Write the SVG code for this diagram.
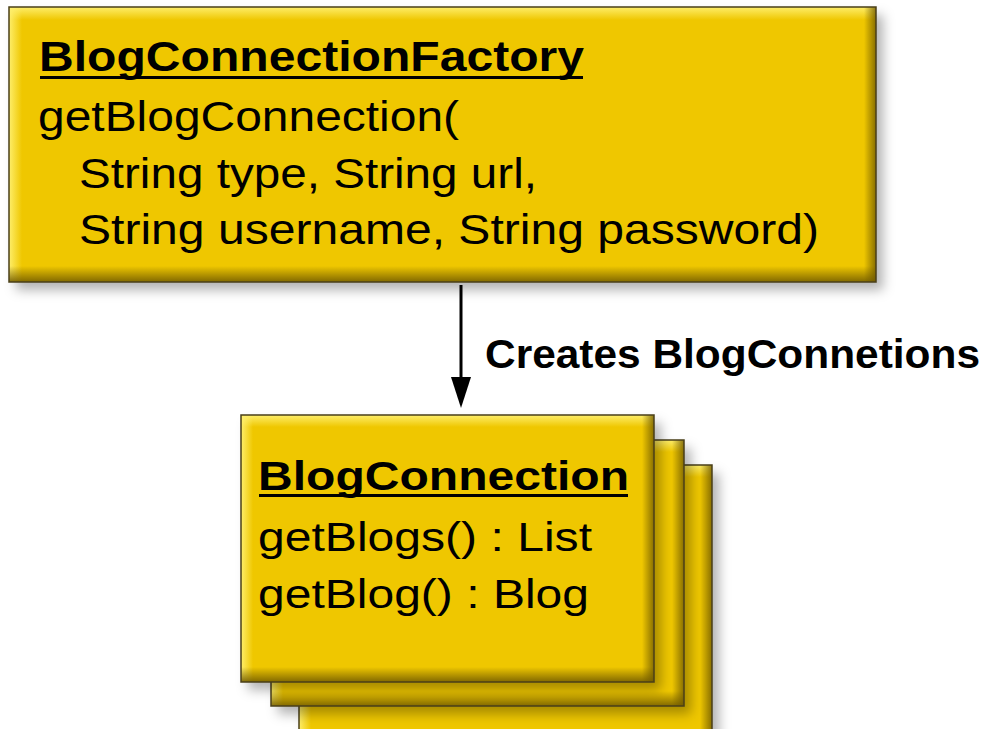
<svg xmlns="http://www.w3.org/2000/svg" width="984" height="729" viewBox="0 0 984 729">
  <style>
    .base { fill: #EFC700; }
    .frame { fill: none; stroke: #4a3f18; stroke-width: 1.5; }
    .txt { font-family: "Liberation Sans", Arial, sans-serif; fill: #000; }
    .bold { font-weight: bold; }
    .rule { fill: #000; }
  </style>
  <defs>
    <linearGradient id="gTop" x1="0" y1="0" x2="0" y2="1">
      <stop offset="0" stop-color="#FFF070" stop-opacity="0.95"/>
      <stop offset="1" stop-color="#FFF070" stop-opacity="0"/>
    </linearGradient>
    <linearGradient id="gLeft" x1="0" y1="0" x2="1" y2="0">
      <stop offset="0" stop-color="#FFF070" stop-opacity="0.95"/>
      <stop offset="1" stop-color="#FFF070" stop-opacity="0"/>
    </linearGradient>
    <linearGradient id="gBottom" x1="0" y1="0" x2="0" y2="1">
      <stop offset="0" stop-color="#6E5800" stop-opacity="0"/>
      <stop offset="1" stop-color="#6E5800" stop-opacity="0.85"/>
    </linearGradient>
    <linearGradient id="gRight" x1="0" y1="0" x2="1" y2="0">
      <stop offset="0" stop-color="#6E5800" stop-opacity="0"/>
      <stop offset="1" stop-color="#6E5800" stop-opacity="0.8"/>
    </linearGradient>
    <filter id="shadow" x="-5%" y="-5%" width="115%" height="125%">
      <feGaussianBlur in="SourceAlpha" stdDeviation="6"/>
      <feOffset dx="7" dy="8" result="blur"/>
      <feFlood flood-color="#000" flood-opacity="0.3"/>
      <feComposite in2="blur" operator="in"/>
      <feMerge>
        <feMergeNode/>
        <feMergeNode in="SourceGraphic"/>
      </feMerge>
    </filter>
  </defs>

  <!-- factory class box -->
  <g id="factory">
    <rect class="base" x="9" y="7" width="867" height="275" filter="url(#shadow)"/>
    <rect fill="url(#gTop)" x="9" y="7" width="867" height="13"/>
    <rect fill="url(#gLeft)" x="9" y="7" width="13" height="275"/>
    <rect fill="url(#gBottom)" x="9" y="266" width="867" height="16"/>
    <rect fill="url(#gRight)" x="864" y="7" width="12" height="275"/>
    <rect class="frame" x="9" y="7" width="867" height="275"/>
    <text class="txt bold" x="39" y="71" font-size="42" textLength="545" lengthAdjust="spacingAndGlyphs">BlogConnectionFactory</text>
    <rect class="rule" x="40" y="76" width="543" height="3"/>
    <text class="txt" x="38" y="131" font-size="42" textLength="421" lengthAdjust="spacingAndGlyphs">getBlogConnection(</text>
    <text class="txt" x="79" y="188" font-size="42" textLength="458" lengthAdjust="spacingAndGlyphs">String type, String url,</text>
    <text class="txt" x="79" y="244" font-size="42" textLength="740" lengthAdjust="spacingAndGlyphs">String username, String password)</text>
  </g>

  <!-- stacked connection instances, back to front -->
  <g id="connection-3">
    <rect class="base" x="299" y="465" width="413" height="280" filter="url(#shadow)"/>
    <rect fill="url(#gTop)" x="299" y="465" width="413" height="12"/>
    <rect fill="url(#gLeft)" x="299" y="465" width="12" height="280"/>
    <rect fill="url(#gRight)" x="700" y="465" width="12" height="280"/>
    <rect class="frame" x="299" y="465" width="413" height="280"/>
  </g>
  <g id="connection-2">
    <rect class="base" x="271" y="440" width="413" height="266" filter="url(#shadow)"/>
    <rect fill="url(#gTop)" x="271" y="440" width="413" height="12"/>
    <rect fill="url(#gLeft)" x="271" y="440" width="12" height="266"/>
    <rect fill="url(#gBottom)" x="271" y="691" width="413" height="15"/>
    <rect fill="url(#gRight)" x="672" y="440" width="12" height="266"/>
    <rect class="frame" x="271" y="440" width="413" height="266"/>
  </g>
  <g id="connection">
    <rect class="base" x="241" y="415" width="413" height="267" filter="url(#shadow)"/>
    <rect fill="url(#gTop)" x="241" y="415" width="413" height="12"/>
    <rect fill="url(#gLeft)" x="241" y="415" width="12" height="267"/>
    <rect fill="url(#gBottom)" x="241" y="667" width="413" height="15"/>
    <rect fill="url(#gRight)" x="642" y="415" width="12" height="267"/>
    <rect class="frame" x="241" y="415" width="413" height="267"/>
    <text class="txt bold" x="258" y="490" font-size="40" textLength="371" lengthAdjust="spacingAndGlyphs">BlogConnection</text>
    <rect class="rule" x="259" y="494" width="369" height="3"/>
    <text class="txt" x="258" y="551" font-size="40" textLength="334" lengthAdjust="spacingAndGlyphs">getBlogs() : List</text>
    <text class="txt" x="258" y="608" font-size="40" textLength="331" lengthAdjust="spacingAndGlyphs">getBlog() : Blog</text>
  </g>

  <!-- creation relationship -->
  <g id="connectors">
    <line x1="461" y1="285" x2="461" y2="380" stroke="#000" stroke-width="3"/>
    <polygon points="451,377 471,377 461,408" fill="#000"/>
    <text class="txt bold" x="485" y="368" font-size="40" textLength="495" lengthAdjust="spacingAndGlyphs">Creates BlogConnetions</text>
  </g>
</svg>
